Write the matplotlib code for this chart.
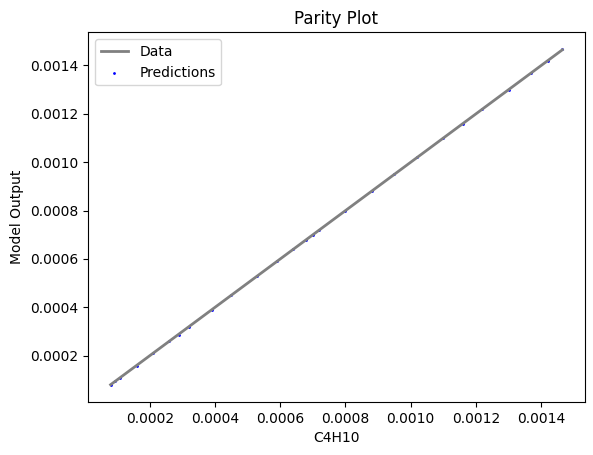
import numpy as np
import matplotlib
matplotlib.use("Agg")
import matplotlib.pyplot as plt

# C4H10 values (true) and model outputs
c4h10 = [0.000080, 0.000095, 0.000110, 0.000160, 0.000210, 0.000260, 0.000290,
         0.000320, 0.000390, 0.000450, 0.000530, 0.000590, 0.000640, 0.000680,
         0.000700, 0.000720, 0.000800, 0.000880, 0.000950, 0.001020, 0.001100,
         0.001160, 0.001220, 0.001300, 0.001370, 0.001420, 0.001465]
model_out = [0.000078, 0.000094, 0.000108, 0.000158, 0.000210, 0.000260, 0.000287,
             0.000320, 0.000390, 0.000450, 0.000528, 0.000590, 0.000640, 0.000680,
             0.000698, 0.000719, 0.000800, 0.000880, 0.000950, 0.001020, 0.001100,
             0.001160, 0.001219, 0.001300, 0.001369, 0.001420, 0.001467]

fig, ax = plt.subplots(figsize=(5.93, 4.55), dpi=100)
fig.subplots_adjust(left=0.1484, right=0.9865, top=0.9286, bottom=0.1165)

ax.plot(c4h10, c4h10, color='gray', linewidth=2, label='Data', zorder=3)
ax.scatter(c4h10, model_out, s=1, color='blue', label='Predictions', zorder=2)
ax.set_xlabel('C4H10')
ax.set_ylabel('Model Output')
ax.set_title('Parity Plot')
ax.legend(loc='upper left')

fig.savefig('out.png')
